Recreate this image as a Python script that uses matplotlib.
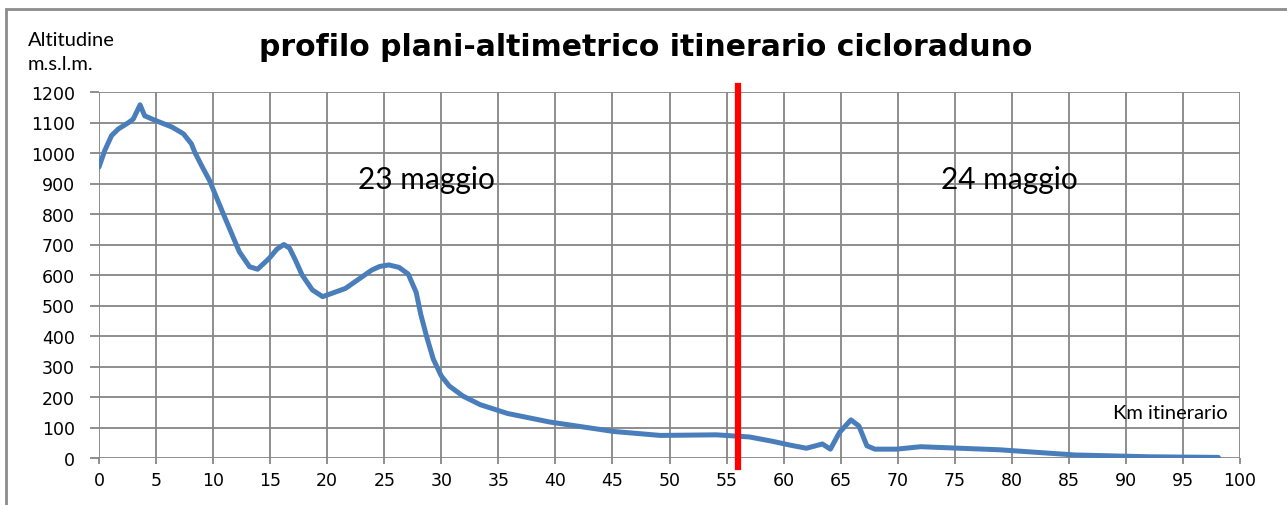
import matplotlib
matplotlib.use("Agg")
import matplotlib.pyplot as plt
from matplotlib.patches import Rectangle

# Data
km = [0, 0.5, 1.1, 1.7, 2.6, 3.0, 3.6, 4.0, 4.8, 6.4, 7.4, 8.1, 8.4, 9.0,
      9.7, 10.3, 10.9, 12.3, 13.2, 13.9, 14.9, 15.6, 16.2, 16.7, 17.2, 17.8,
      18.7, 19.6, 21.6, 23.9, 24.6, 25.4, 26.3, 27.1, 27.8, 28.2, 28.7, 29.3,
      30.0, 30.7, 31.9, 33.4, 35.8, 39.5, 45.1, 49.2, 54.1, 57.0, 59.0, 60.6,
      62.0, 63.4, 64.1, 64.9, 65.9, 66.6, 67.3, 68.0, 69.9, 72, 78.9, 85.5,
      92, 98.1]
altitude = [954, 1008, 1057, 1079, 1100, 1111, 1158, 1122, 1109, 1085, 1063,
            1030, 1002, 958, 909, 854, 800, 676, 627, 619, 654, 685, 700, 688,
            650, 600, 551, 529, 556, 616, 628, 633, 625, 603, 543, 471, 400,
            324, 269, 236, 203, 175, 146, 118, 87, 74, 76, 69, 55, 42, 32, 46,
            29, 84, 125, 105, 40, 29, 29, 37, 27, 10, 4, 2]
day_split_km = 56
x_ticks = list(range(0, 101, 5))
y_ticks = list(range(0, 1201, 100))
title = "profilo plani-altimetrico itinerario cicloraduno"
day_labels = ["23 maggio", "24 maggio"]
day_label_x = [28.7, 79.8]

W, H = 1287, 506
fig = plt.figure(figsize=(W / 100, H / 100), dpi=100)
ax = fig.add_axes([99 / W, (H - 459) / H, (1240 - 99) / W, (459 - 93) / H])

ax.plot(km, altitude, color="#4a7ebb", lw=3.6, solid_capstyle="round",
        solid_joinstyle="round", zorder=3)
ax.set_xlim(0, 100)
ax.set_ylim(0, 1200)
ax.set_xticks(x_ticks)
ax.set_yticks(y_ticks)
ax.grid(True, color="#868686", lw=1.3)
ax.set_axisbelow(True)
for s in ax.spines.values():
    s.set_visible(False)
ax.tick_params(axis="x", length=4.5, width=1.3, color="#868686", pad=5,
               labelsize=12.5)
ax.tick_params(axis="y", length=6.5, width=1.3, color="#868686", pad=11,
               labelsize=12.5)
for lab in ax.get_xticklabels() + ax.get_yticklabels():
    lab.set_family("DejaVu Sans")

# red day separator, extends slightly beyond plot area
ax.plot([day_split_km, day_split_km], [-30, 1220], color="#ff0000", lw=4.5,
        clip_on=False, zorder=4)

for x, t in zip(day_label_x, day_labels):
    ax.text(x, 915, t, fontsize=21.5, family="Lato", ha="center", va="center",
            color="black")

ax.text(93.9, 150, "Km itinerario", fontsize=14.5, family="Lato", ha="center",
        va="center")

fig.text(646 / W, 1 - 47 / H, title, fontsize=21.5, fontweight="bold",
         family="DejaVu Sans", ha="center", va="center")
fig.text(28 / W, 1 - 40 / H, "Altitudine", fontsize=14.5, family="Lato",
         ha="left", va="center")
fig.text(28 / W, 1 - 65 / H, "m.s.l.m.", fontsize=14.5, family="Lato",
         ha="left", va="center")

# outer frame
fig.patches.append(Rectangle((6 / W, -0.1), 1.2, 1.1 - 10 / H,
                             transform=fig.transFigure, fill=False,
                             edgecolor="#8c8c8c", lw=2.0))

fig.savefig("out.png", dpi=100)
